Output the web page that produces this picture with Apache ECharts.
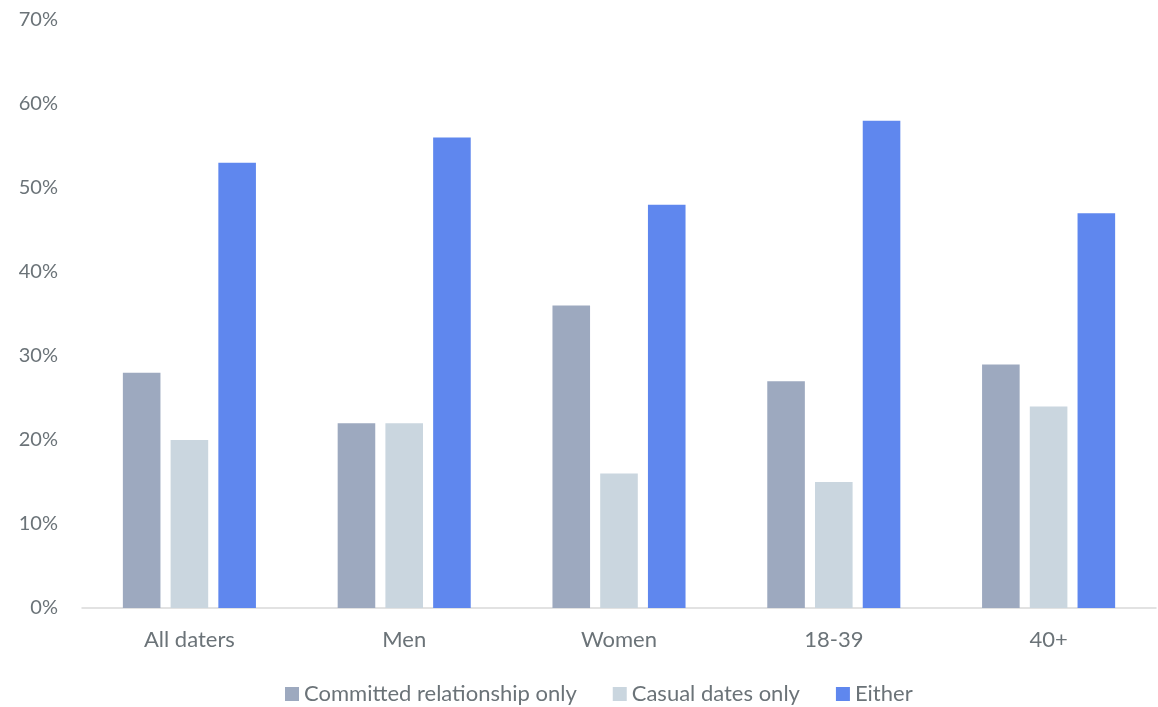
<!DOCTYPE html>
<html>
<head>
<meta charset="utf-8">
<style>
  html, body { margin: 0; padding: 0; background: #ffffff; }
  #chart { width: 1158px; height: 707px; }
</style>
<script src="https://cdn.jsdelivr.net/npm/echarts@6/dist/echarts.min.js"></script>
</head>
<body>
<div id="chart"></div>
<script>
// Groups of daters along the x axis
const categories = ['All daters', 'Men', 'Women', '18-39', '40+'];

// Share of daters looking for each kind of relationship (%)
const committedOnly = [28, 22, 36, 27, 29];
const casualOnly = [20, 22, 16, 15, 24];
const either = [53, 56, 48, 58, 47];

const seriesNames = ['Committed relationship only', 'Casual dates only', 'Either'];
const seriesColors = ['#9DA9BF', '#CAD6DF', '#5F87EE'];

const textColor = '#6B7378';
const fontFamily = 'Lato, "Open Sans", sans-serif';

const chart = echarts.init(document.getElementById('chart'), null, { renderer: 'canvas' });

const seriesData = [committedOnly, casualOnly, either];

chart.setOption({
  animation: false,
  textStyle: { fontFamily: fontFamily },
  grid: { left: 82, right: 2, top: 20, bottom: 99, containLabel: false },
  legend: {
    top: 678,
    left: 280,
    itemWidth: 14,
    itemHeight: 14,
    itemGap: 36,
    icon: 'rect',
    textStyle: { color: textColor, fontSize: 22, fontFamily: fontFamily },
    data: seriesNames
  },
  xAxis: {
    type: 'category',
    data: categories,
    axisLine: { show: true, lineStyle: { color: '#D9D9D9', width: 1.5 } },
    axisTick: { show: false },
    axisLabel: { color: textColor, fontSize: 22, margin: 21, fontFamily: fontFamily },
    splitLine: { show: false }
  },
  yAxis: {
    type: 'value',
    min: 0,
    max: 70,
    interval: 10,
    axisLine: { show: false },
    axisTick: { show: false },
    splitLine: { show: false },
    axisLabel: {
      color: textColor,
      fontSize: 20,
      margin: 24,
      fontFamily: fontFamily,
      formatter: v => v + '%'
    }
  },
  series: seriesNames.map((name, i) => ({
    name: name,
    type: 'bar',
    data: seriesData[i],
    barWidth: '17.5%',
    barGap: '27%',
    itemStyle: { color: seriesColors[i] },
    emphasis: { disabled: true }
  }))
});
</script>
</body>
</html>
